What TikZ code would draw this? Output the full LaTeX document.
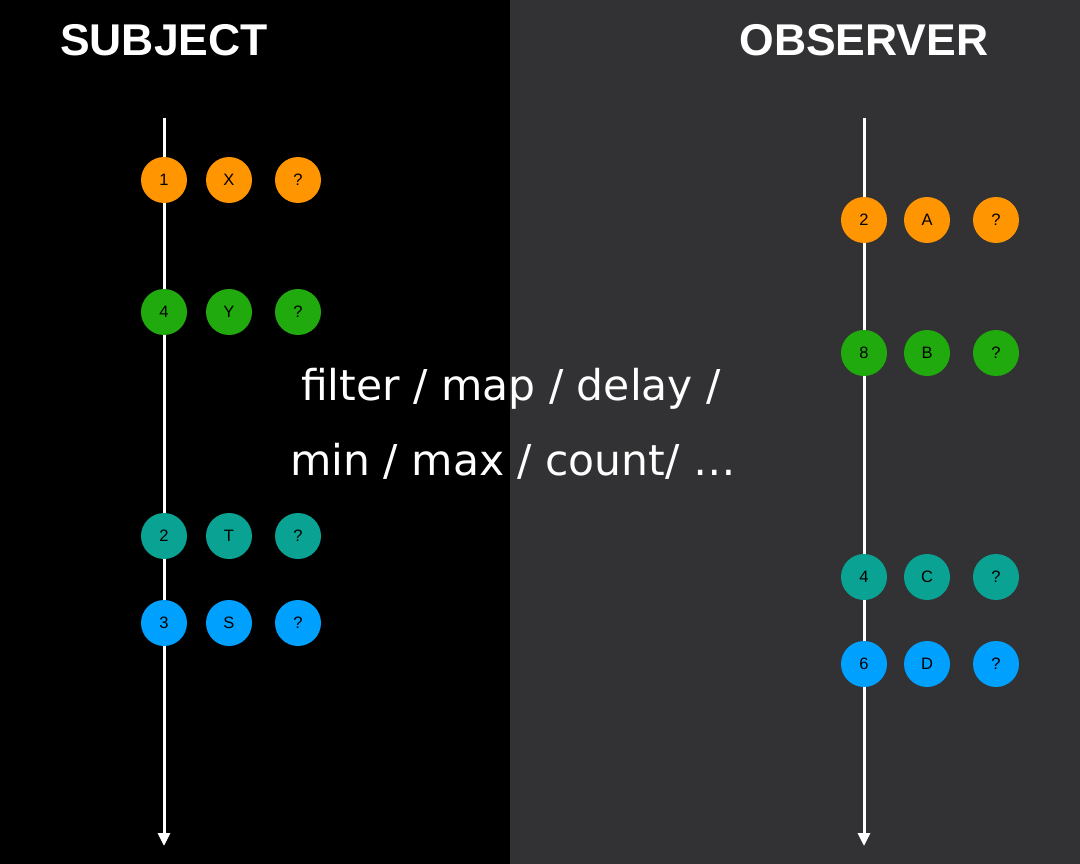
\documentclass[tikz,border=0pt]{standalone}
\usepackage{fontspec}
\setmainfont{Liberation Sans}
\newfontfamily\midfont{DejaVu Sans}
\usetikzlibrary{arrows.meta}
\definecolor{bgdark}{RGB}{50,50,52}
\definecolor{cOrange}{RGB}{255,149,0}
\definecolor{cGreen}{RGB}{33,170,14}
\definecolor{cTeal}{RGB}{10,162,146}
\definecolor{cBlue}{RGB}{0,160,255}
\tikzset{
  ball/.style={circle, minimum size=46pt, inner sep=0pt, text=black, font=\fontsize{16.5}{16.5}\selectfont},
  title/.style={text=white, font=\fontsize{44.5}{44.5}\selectfont\bfseries},
  timeline/.style={draw=white, line width=3pt, -{Triangle[width=12pt,length=13pt]}},
  midtext/.style={text=white, font=\midfont\fontsize{42.5}{42.5}\selectfont, anchor=base},
}
\begin{document}
\begin{tikzpicture}[x=1pt,y=-1pt]
\useasboundingbox (0,0) rectangle (1080,864);
\fill[black] (0,0) rectangle (510,864);
\fill[bgdark] (510,0) rectangle (1080,864);
\node[title] (subj) at (164,40) {SUBJECT};
\node[title] (obs) at (864,40) {OBSERVER};
\coordinate (ls) at (164,118);
\coordinate (le) at (164,846);
\coordinate (rs) at (864,118);
\coordinate (re) at (864,846);
\draw[timeline] (ls) -- (le);
\draw[timeline] (rs) -- (re);
% left
\node[ball, fill=cOrange] (l11) at (164,180) {1};
\node[ball, fill=cOrange] (l12) at (229,180) {X};
\node[ball, fill=cOrange] (l13) at (298,180) {?};
\node[ball, fill=cGreen] (l21) at (164,312) {4};
\node[ball, fill=cGreen] (l22) at (229,312) {Y};
\node[ball, fill=cGreen] (l23) at (298,312) {?};
\node[ball, fill=cTeal] (l31) at (164,536) {2};
\node[ball, fill=cTeal] (l32) at (229,536) {T};
\node[ball, fill=cTeal] (l33) at (298,536) {?};
\node[ball, fill=cBlue] (l41) at (164,623) {3};
\node[ball, fill=cBlue] (l42) at (229,623) {S};
\node[ball, fill=cBlue] (l43) at (298,623) {?};
% right
\node[ball, fill=cOrange] (r11) at (864,220) {2};
\node[ball, fill=cOrange] (r12) at (927,220) {A};
\node[ball, fill=cOrange] (r13) at (996,220) {?};
\node[ball, fill=cGreen] (r21) at (864,353) {8};
\node[ball, fill=cGreen] (r22) at (927,353) {B};
\node[ball, fill=cGreen] (r23) at (996,353) {?};
\node[ball, fill=cTeal] (r31) at (864,577) {4};
\node[ball, fill=cTeal] (r32) at (927,577) {C};
\node[ball, fill=cTeal] (r33) at (996,577) {?};
\node[ball, fill=cBlue] (r41) at (864,664) {6};
\node[ball, fill=cBlue] (r42) at (927,664) {D};
\node[ball, fill=cBlue] (r43) at (996,664) {?};
% middle text
\node[midtext] (m1) at (511,400) {filter / map / delay /};
\node[midtext] (m2) at (513,475) {min / max / count/ \dots};
\end{tikzpicture}
\end{document}
